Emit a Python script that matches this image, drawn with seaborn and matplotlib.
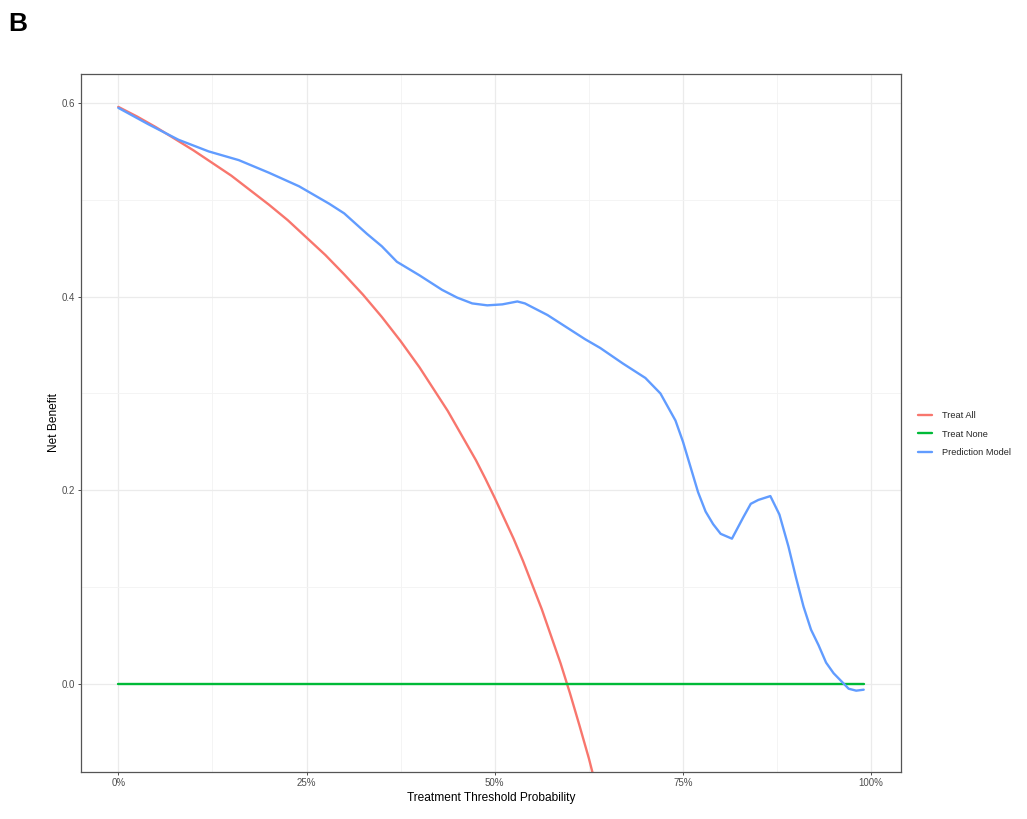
import pandas as pd
import numpy as np
import matplotlib
matplotlib.use("Agg")
import matplotlib.pyplot as plt
import seaborn as sns
from matplotlib.lines import Line2D
from matplotlib.ticker import FixedLocator

# threshold probabilities and net benefit
treat_all_x = [0.000, 0.025, 0.050, 0.075, 0.100, 0.125, 0.150, 0.175, 0.200,
               0.225, 0.250, 0.275, 0.300, 0.325, 0.350, 0.375, 0.400, 0.425,
               0.4375, 0.450, 0.4625, 0.475, 0.4875, 0.500, 0.5125, 0.525,
               0.5375, 0.550, 0.5625, 0.575, 0.5875, 0.600, 0.6125, 0.625,
               0.6375, 0.650]
treat_all_y = [0.596, 0.586, 0.575, 0.563, 0.551, 0.538, 0.525, 0.510, 0.495,
               0.479, 0.461, 0.443, 0.423, 0.402, 0.379, 0.354, 0.327, 0.297,
               0.282, 0.265, 0.248, 0.231, 0.212, 0.192, 0.171, 0.150,
               0.127, 0.102, 0.077, 0.049, 0.021, -0.010, -0.043, -0.077,
               -0.115, -0.154]

treat_none_x = [0.00, 0.99]
treat_none_y = [0.0, 0.0]

model_x = [0.00, 0.04, 0.08, 0.10, 0.12, 0.16, 0.20, 0.22, 0.24, 0.26, 0.28,
           0.30, 0.33, 0.35, 0.37, 0.40, 0.43, 0.45, 0.47, 0.49, 0.51, 0.53,
           0.54, 0.57, 0.60, 0.62, 0.64, 0.67, 0.70, 0.72, 0.74, 0.75, 0.77,
           0.78, 0.79, 0.80, 0.815, 0.83, 0.84, 0.85, 0.866, 0.878, 0.89,
           0.90, 0.91, 0.92, 0.93, 0.94, 0.95, 0.96, 0.97, 0.98, 0.99]
model_y = [0.595, 0.578, 0.562, 0.556, 0.550, 0.541, 0.528, 0.521, 0.514,
           0.505, 0.496, 0.486, 0.465, 0.452, 0.436, 0.422, 0.407, 0.399,
           0.393, 0.391, 0.392, 0.395, 0.393, 0.381, 0.366, 0.356, 0.347,
           0.331, 0.316, 0.300, 0.272, 0.250, 0.198, 0.178, 0.165, 0.155,
           0.150, 0.172, 0.186, 0.190, 0.194, 0.175, 0.142, 0.110, 0.080,
           0.056, 0.040, 0.022, 0.011, 0.003, -0.005, -0.007, -0.006]

labels = ["Treat All", "Treat None", "Prediction Model"]
colors = ["#F8766D", "#00BA38", "#619CFF"]


def main():
    df = pd.concat([
        pd.DataFrame({"threshold": treat_all_x, "net_benefit": treat_all_y, "model": labels[0]}),
        pd.DataFrame({"threshold": treat_none_x, "net_benefit": treat_none_y, "model": labels[1]}),
        pd.DataFrame({"threshold": model_x, "net_benefit": model_y, "model": labels[2]}),
    ], ignore_index=True)

    sns.set_theme(style="white")
    plt.rcParams["font.family"] = ["Liberation Sans", "DejaVu Sans"]

    fig = plt.figure(figsize=(10.27, 8.19), dpi=100)
    ax = fig.add_axes([0.0789, 0.0574, 0.7984, 0.8523])

    sns.lineplot(data=df, x="threshold", y="net_benefit", hue="model",
                 hue_order=labels, palette=colors, estimator=None,
                 linewidth=1.7, ax=ax, legend=False)

    ax.set_xlim(-0.0495, 1.0395)
    ax.set_ylim(-0.091, 0.630)

    ax.xaxis.set_major_locator(FixedLocator([0, 0.25, 0.5, 0.75, 1.0]))
    ax.xaxis.set_minor_locator(FixedLocator([0.125, 0.375, 0.625, 0.875]))
    ax.yaxis.set_major_locator(FixedLocator([0.0, 0.2, 0.4, 0.6]))
    ax.yaxis.set_minor_locator(FixedLocator([0.1, 0.3, 0.5]))
    ax.set_xticklabels(["0%", "25%", "50%", "75%", "100%"])
    ax.set_yticklabels(["0.0", "0.2", "0.4", "0.6"])

    ax.grid(which="major", color="#EBEBEB", linewidth=0.9)
    ax.grid(which="minor", color="#F3F3F3", linewidth=0.6)
    ax.set_axisbelow(True)

    ax.tick_params(which="major", direction="out", length=2.5, width=0.6,
                   color="#333333", labelsize=7, labelcolor="#4D4D4D", pad=1.8,
                   bottom=True, left=True)
    ax.tick_params(which="minor", length=0)
    for side in ax.spines.values():
        side.set_color("#555555")
        side.set_linewidth(0.9)

    ax.set_xlabel("Treatment Threshold Probability", fontsize=8.6, color="black", labelpad=3)
    ax.set_ylabel("Net Benefit", fontsize=8.6, color="black", labelpad=1)

    handles = [Line2D([0], [0], color=c, linewidth=1.7) for c in colors]
    ax.legend(handles, labels, loc="center left", bbox_to_anchor=(1.01, 0.484),
              frameon=False, fontsize=6.7, handlelength=1.6, labelspacing=1.0,
              handletextpad=1.0)

    fig.text(0.008, 0.985, "B", fontsize=19, fontweight="bold", color="black",
             va="top", ha="left")

    fig.savefig("out.png", dpi=100)
    plt.close(fig)


if __name__ == "__main__":
    main()
